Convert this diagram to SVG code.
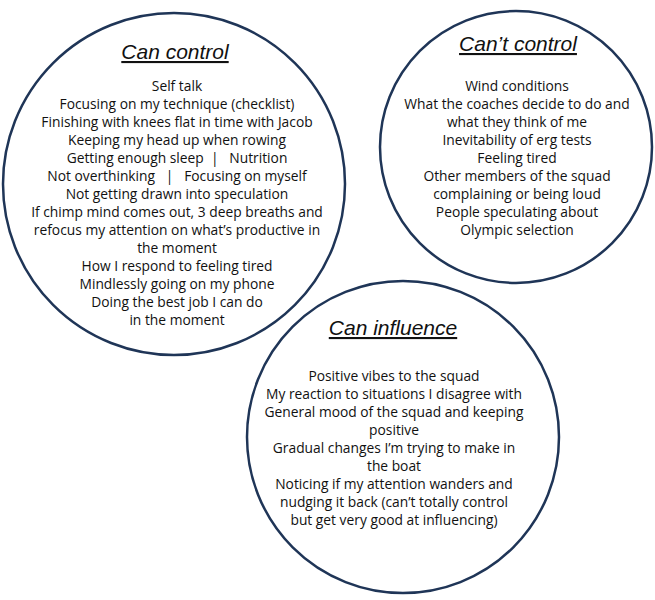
<svg xmlns="http://www.w3.org/2000/svg" width="655" height="600" viewBox="0 0 655 600">
<style>
.c{fill:#fff;stroke:#1f3557;stroke-width:2.5}
.t{font-family:"Open Sans","Noto Sans",sans-serif;font-size:13.8px;fill:#111;text-anchor:middle}
.h{font-family:"Liberation Sans",sans-serif;font-style:italic;font-size:21px;fill:#111;text-anchor:middle;text-decoration:underline}
</style>
<rect width="655" height="600" fill="#fff"/>
<g id="can-control">
<circle class="c" cx="174" cy="184" r="171"/>
<text class="h" x="175" y="59">Can control</text>
<text class="t" x="177" y="91">Self talk</text>
<text class="t" x="177" y="109">Focusing on my technique (checklist)</text>
<text class="t" x="177" y="127">Finishing with knees flat in time with Jacob</text>
<text class="t" x="177" y="145">Keeping my head up when rowing</text>
<text class="t" x="177" y="163" xml:space="preserve">Getting enough sleep  |   Nutrition</text>
<text class="t" x="177" y="181" xml:space="preserve">Not overthinking   |   Focusing on myself</text>
<text class="t" x="177" y="199">Not getting drawn into speculation</text>
<text class="t" x="177" y="217">If chimp mind comes out, 3 deep breaths and</text>
<text class="t" x="177" y="235">refocus my attention on what’s productive in</text>
<text class="t" x="177" y="253">the moment</text>
<text class="t" x="177" y="271">How I respond to feeling tired</text>
<text class="t" x="177" y="289">Mindlessly going on my phone</text>
<text class="t" x="177" y="307">Doing the best job I can do</text>
<text class="t" x="177" y="325">in the moment</text>
</g>
<g id="cant-control">
<circle class="c" cx="516" cy="147" r="136"/>
<text class="h" x="518" y="51">Can’t control</text>
<text class="t" x="517" y="91">Wind conditions</text>
<text class="t" x="517" y="109">What the coaches decide to do and</text>
<text class="t" x="517" y="127">what they think of me</text>
<text class="t" x="517" y="145">Inevitability of erg tests</text>
<text class="t" x="517" y="163">Feeling tired</text>
<text class="t" x="517" y="181">Other members of the squad</text>
<text class="t" x="517" y="199">complaining or being loud</text>
<text class="t" x="517" y="217">People speculating about</text>
<text class="t" x="517" y="235">Olympic selection</text>
</g>
<g id="can-influence">
<circle class="c" cx="403" cy="437" r="156"/>
<text class="h" x="393" y="335">Can influence</text>
<text class="t" x="394" y="381">Positive vibes to the squad</text>
<text class="t" x="394" y="399">My reaction to situations I disagree with</text>
<text class="t" x="394" y="417">General mood of the squad and keeping</text>
<text class="t" x="394" y="435">positive</text>
<text class="t" x="394" y="453">Gradual changes I’m trying to make in</text>
<text class="t" x="394" y="471">the boat</text>
<text class="t" x="394" y="489">Noticing if my attention wanders and</text>
<text class="t" x="394" y="507">nudging it back (can’t totally control</text>
<text class="t" x="394" y="525">but get very good at influencing)</text>
</g>
<g id="connectors"/>
</svg>
